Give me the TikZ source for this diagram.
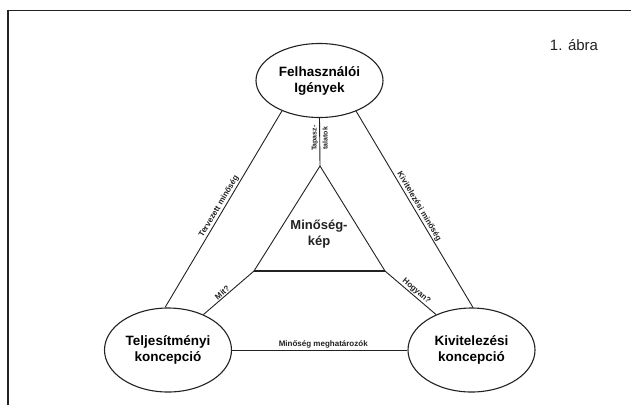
\documentclass[tikz,border=0pt]{standalone}
\usepackage{fontspec}
\setmainfont{Liberation Sans}
\usetikzlibrary{shapes.geometric}
\definecolor{ink}{HTML}{222222}
\tikzset{
  conc/.style={draw=ink, line width=1.1pt, ellipse, inner sep=0pt, minimum width=127pt, minimum height=84pt,
    align=center, font=\bfseries\fontsize{13.5}{16}\selectfont},
  conn/.style={draw=ink, line width=0.9pt},
  lbl/.style={font=\bfseries\fontsize{8}{9}\selectfont, inner sep=1pt, text=ink},
}
\begin{document}
\begin{tikzpicture}[x=1pt,y=-1pt]
\path[use as bounding box, fill=white] (0,0) rectangle (631,405);
% frame (cropped)
\draw[ink, line width=1.3pt] (8,405) -- (8,10.5) -- (631,10.5);

\node[conc, minimum height=74pt] (top) at (319.5,80.5) {Felhasználói\\Igények};
\node[conc] (bl) at (168,350) {Teljesítményi\\koncepció};
\node[conc] (br) at (471.5,350) {Kivitelezési\\koncepció};

\node[font=\fontsize{15}{16}\selectfont, text=ink] (fig) at (574,45) {1. ábra};

% inner triangle
\coordinate (A) at (320,166);
\coordinate (L) at (254,271);
\coordinate (R) at (385,271);
\draw[conn] (A) -- (L);
\draw[conn] (A) -- (R);
\draw[conn, line width=1.3pt] (L) -- (R);
\node[align=center, font=\bfseries\fontsize{13}{16}\selectfont, text=ink] (kep) at (319,234) {Minőség-\\kép};

% outer connectors
\draw[conn] (top.219.5) -- node[lbl, sloped, above, pos=0.5] {Tervezett minőség} (bl.94);
\draw[conn] (top.320.5) -- node[lbl, sloped, above, pos=0.5] {Kivitelezési minőség} (br.88.5);
\draw[conn] (bl.east) -- node[lbl, above, pos=0.52] {Minőség meghatározók} (br.west);

% inner connectors
\draw[conn] (top.south) -- node[lbl, rotate=90, align=center, pos=0.42, inner sep=0.5pt, font=\bfseries\fontsize{7}{11}\selectfont] {Tapasz-\\talatok} (A);
\draw[conn] (L) -- node[lbl, sloped, above, pos=0.57] {Mit?} (bl.45);
\draw[conn] (R) -- node[lbl, sloped, above, pos=0.55] {Hogyan?} (br.135);
\end{tikzpicture}
\end{document}
